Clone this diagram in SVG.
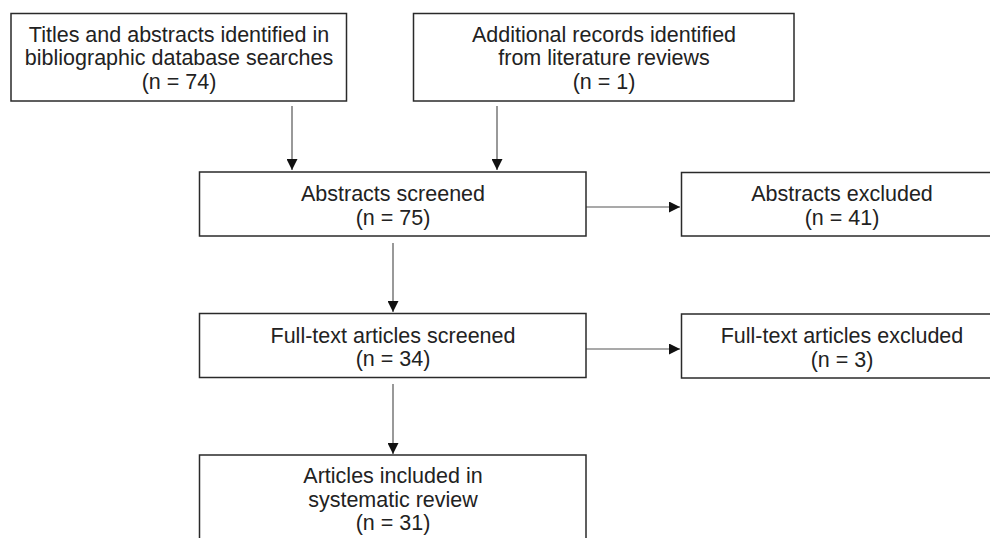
<svg xmlns="http://www.w3.org/2000/svg" width="990" height="538" viewBox="0 0 990 538">
<style>
.box{fill:#fff;stroke:#2a2a2a;stroke-width:1.5}
.t{font-family:"Liberation Sans",Arial,sans-serif;font-size:21.5px;fill:#222;text-anchor:middle}
.c{stroke:#555;stroke-width:1.2;fill:none}
</style>
<defs>
<marker id="ah" viewBox="0 0 10 10" refX="10" refY="5" markerWidth="11" markerHeight="11" markerUnits="userSpaceOnUse" orient="auto">
<path d="M0,0 L10,5 L0,10 Z" fill="#111"/>
</marker>
</defs>
<rect width="990" height="538" fill="#fff"/>
<g id="connectors">
<line class="c" x1="292" y1="106" x2="292" y2="170" marker-end="url(#ah)"/>
<line class="c" x1="497" y1="106" x2="497" y2="170" marker-end="url(#ah)"/>
<line class="c" x1="586" y1="207" x2="680" y2="207" marker-end="url(#ah)"/>
<line class="c" x1="393" y1="243" x2="393" y2="312" marker-end="url(#ah)"/>
<line class="c" x1="586" y1="349" x2="680" y2="349" marker-end="url(#ah)"/>
<line class="c" x1="393" y1="384" x2="393" y2="454" marker-end="url(#ah)"/>
</g>
<g id="n1">
<rect class="box" x="11" y="13.5" width="335.5" height="87.5"/>
<text class="t" x="179" y="41.5">Titles and abstracts identified in</text>
<text class="t" x="179" y="65">bibliographic database searches</text>
<text class="t" x="179" y="88.5">(n = 74)</text>
</g>
<g id="n2">
<rect class="box" x="413.5" y="13.5" width="380.5" height="87.5"/>
<text class="t" x="604" y="41.5">Additional records identified</text>
<text class="t" x="604" y="65">from literature reviews</text>
<text class="t" x="604" y="88.5">(n = 1)</text>
</g>
<g id="n3">
<rect class="box" x="199.5" y="172" width="386.5" height="64"/>
<text class="t" x="393" y="201">Abstracts screened</text>
<text class="t" x="393" y="224.5">(n = 75)</text>
</g>
<g id="n4">
<rect class="box" x="681.5" y="172.5" width="320" height="63.5"/>
<text class="t" x="842" y="201">Abstracts excluded</text>
<text class="t" x="842" y="224.5">(n = 41)</text>
</g>
<g id="n5">
<rect class="box" x="199.5" y="313.5" width="386.5" height="64"/>
<text class="t" x="393" y="342.5">Full-text articles screened</text>
<text class="t" x="393" y="366">(n = 34)</text>
</g>
<g id="n6">
<rect class="box" x="681.5" y="314" width="320" height="64"/>
<text class="t" x="842" y="343">Full-text articles excluded</text>
<text class="t" x="842" y="366.5">(n = 3)</text>
</g>
<g id="n7">
<rect class="box" x="199.5" y="455" width="386.5" height="100"/>
<text class="t" x="393" y="483">Articles included in</text>
<text class="t" x="393" y="506.5">systematic review</text>
<text class="t" x="393" y="530">(n = 31)</text>
</g>
</svg>
